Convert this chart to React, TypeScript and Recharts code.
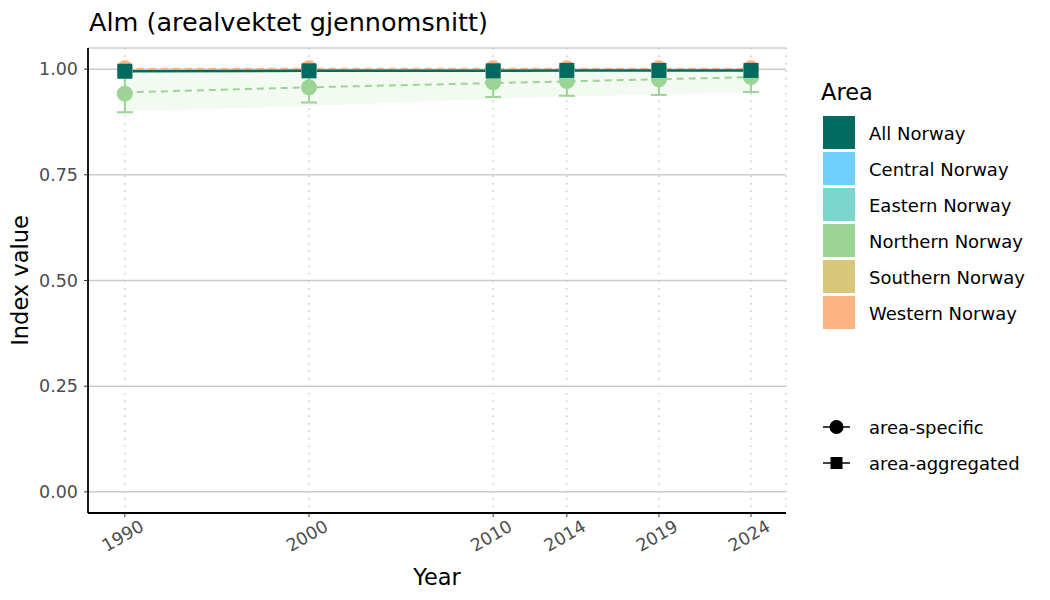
import React from 'react';
import { ComposedChart, Line, Area, XAxis, YAxis, CartesianGrid, ErrorBar, Label } from 'recharts';

const years = [1990, 2000, 2010, 2014, 2019, 2024];
const yTicks = [0, 0.25, 0.5, 0.75, 1];

// area-aggregated
const allNorway = [0.995, 0.996, 0.996, 0.997, 0.997, 0.997];

// area-specific
const centralNorway = [1.0, 1.0, 1.0, 1.0, 1.0, 1.0];
const easternNorway = [1.0, 1.0, 1.0, 1.0, 1.0, 1.0];
const southernNorway = [1.0, 1.0, 1.0, 1.0, 1.0, 1.0];
const westernNorway = [1.002, 1.002, 1.002, 1.002, 1.002, 1.002];
const westernFit = [1.001, 1.001, 1.001, 1.001, 1.001, 1.001];
const northernNorway = [0.942, 0.957, 0.969, 0.972, 0.976, 0.981];
const northernLow = [0.898, 0.921, 0.934, 0.937, 0.939, 0.946];
const northernHigh = [0.986, 0.993, 1.0, 1.0, 1.0, 1.0];
const northernFit = [0.945, 0.957, 0.967, 0.971, 0.976, 0.981];
const northernBandLow = [0.899, 0.913, 0.93, 0.935, 0.94, 0.945];
const northernBandHigh = [0.992, 0.998, 1.0, 1.0, 1.0, 1.0];

const areaNames = ['All Norway', 'Central Norway', 'Eastern Norway', 'Northern Norway', 'Southern Norway', 'Western Norway'];
const areaColors = ['#006960', '#6fcfff', '#7ad6cc', '#9bd494', '#d8c67a', '#ffb380'];
const shapeNames = ['area-specific', 'area-aggregated'];

const data = years.map((year, i) => ({
  year,
  all: allNorway[i],
  central: centralNorway[i],
  eastern: easternNorway[i],
  southern: southernNorway[i],
  western: westernNorway[i],
  westernFit: westernFit[i],
  north: northernNorway[i],
  northErr: [northernNorway[i] - northernLow[i], northernHigh[i] - northernNorway[i]],
  northFit: northernFit[i],
  northBand: [northernBandLow[i], northernBandHigh[i]],
}));

const font = '"DejaVu Sans", Verdana, sans-serif';
const textGrey = '#4d4d4d';

const circleDot = (color: string) => (p: any) =>
  <circle key={`c-${color}-${p.index}`} cx={p.cx} cy={p.cy} r={8} fill={color} />;

const squareDot = (color: string) => (p: any) =>
  <rect key={`s-${color}-${p.index}`} x={p.cx - 7.5} y={p.cy - 7.5} width={15} height={15} fill={color} />;

const YearTick = (props: any) => {
  const { x, y, payload } = props;
  return (
    <g transform={`translate(${x + 14},${y})`}>
      <text transform="rotate(-30)" textAnchor="end" dy="0.72em" fill={textGrey} fontSize={17.5} fontFamily={font}>
        {payload.value}
      </text>
    </g>
  );
};

const YLabel = (props: any) => {
  const vb = props.viewBox;
  const cx = vb.x + 20;
  const cy = vb.y + vb.height / 2;
  return (
    <text x={cx} y={cy} transform={`rotate(-90 ${cx} ${cy})`} textAnchor="middle" dominantBaseline="central" fontSize={22.5} fill="#000" fontFamily={font}>
      Index value
    </text>
  );
};

const Legends = () => (
  <svg width={235} height={420} style={{ position: 'absolute', left: 815, top: 75 }}>
    <text x={6} y={17} dominantBaseline="central" fontSize={22.5} fontFamily={font} fill="#000">Area</text>
    {areaNames.map((name, i) => (
      <g key={name} transform={`translate(0,${41 + i * 36})`}>
        <rect x={8} y={0} width={32} height={33} fill={areaColors[i]} />
        <text x={54} y={17} dominantBaseline="central" fontSize={18} fontFamily={font} fill="#000">{name}</text>
      </g>
    ))}
    {shapeNames.map((name, i) => (
      <g key={name} transform={`translate(0,${352 + i * 36})`}>
        <line x1={8} x2={35} y1={0} y2={0} stroke="#000" strokeWidth={1.5} />
        {i === 0 ? <circle cx={21.5} cy={0} r={7} fill="#000" /> : <rect x={15.5} y={-6} width={12} height={12} fill="#000" />}
        <text x={54} y={0} dominantBaseline="central" fontSize={18} fontFamily={font} fill="#000">{name}</text>
      </g>
    ))}
  </svg>
);

export default function App() {
  return (
    <div style={{ position: 'relative', width: 1050, height: 600, background: '#fff', fontFamily: font }}>
      <style>{'body{margin:0}'}</style>
      <div style={{ position: 'absolute', left: 89, top: 7, fontSize: 25.5, lineHeight: 'normal', color: '#000' }}>
        Alm (arealvektet gjennomsnitt)
      </div>
      <ComposedChart width={1050} height={600} data={data} margin={{ top: 48, right: 264, bottom: 0, left: 0 }}>
        <CartesianGrid horizontal={true} vertical={false} stroke="#cccccc" strokeWidth={1.5} />
        <CartesianGrid horizontal={false} vertical={true} stroke="#c8c8c8" strokeWidth={1.5} strokeDasharray="1.5 6" />
        <XAxis
          dataKey="year"
          type="number"
          domain={[1988.0, 2025.9]}
          ticks={years}
          allowDataOverflow
          height={87}
          tick={<YearTick />}
          tickSize={4}
          tickMargin={2}
          stroke="#000"
          strokeWidth={1.8}
          tickLine={{ stroke: '#333', strokeWidth: 1 }}
        >
          <Label value="Year" position="insideBottom" offset={15} fontSize={22.5} fill="#000" fontFamily={font} />
        </XAxis>
        <YAxis
          type="number"
          domain={[-0.05, 1.05]}
          ticks={yTicks}
          allowDataOverflow
          width={88}
          tickFormatter={(v: number) => v.toFixed(2)}
          tick={{ fill: textGrey, fontSize: 17.5, fontFamily: font }}
          tickSize={4}
          tickMargin={6}
          stroke="#000"
          strokeWidth={1.8}
          tickLine={{ stroke: '#333', strokeWidth: 1 }}
        >
          <Label content={<YLabel />} />
        </YAxis>

        <Area dataKey="northBand" stroke="none" fill={areaColors[3]} fillOpacity={0.12} isAnimationActive={false} activeDot={false} />

        <Line dataKey="central" stroke={areaColors[1]} strokeWidth={2} strokeDasharray="7 5" dot={circleDot(areaColors[1])} activeDot={false} isAnimationActive={false} />
        <Line dataKey="eastern" stroke={areaColors[2]} strokeWidth={2} strokeDasharray="7 5" dot={circleDot(areaColors[2])} activeDot={false} isAnimationActive={false} />

        <Line dataKey="northFit" stroke={areaColors[3]} strokeWidth={2} strokeDasharray="7 5" dot={false} activeDot={false} isAnimationActive={false} />
        <Line dataKey="north" stroke="none" dot={circleDot(areaColors[3])} activeDot={false} isAnimationActive={false}>
          <ErrorBar dataKey="northErr" direction="y" width={8} stroke={areaColors[3]} strokeWidth={2} />
        </Line>

        <Line dataKey="southern" stroke={areaColors[4]} strokeWidth={2} strokeDasharray="7 5" dot={circleDot(areaColors[4])} activeDot={false} isAnimationActive={false} />
        <Line dataKey="western" stroke="none" dot={circleDot(areaColors[5])} activeDot={false} isAnimationActive={false} />
        <Line dataKey="westernFit" stroke={areaColors[5]} strokeWidth={2} strokeDasharray="7 5" dot={false} activeDot={false} isAnimationActive={false} />

        <Line dataKey="all" stroke={areaColors[0]} strokeWidth={2.5} dot={squareDot(areaColors[0])} activeDot={false} isAnimationActive={false} />
      </ComposedChart>
      <Legends />
    </div>
  );
}
